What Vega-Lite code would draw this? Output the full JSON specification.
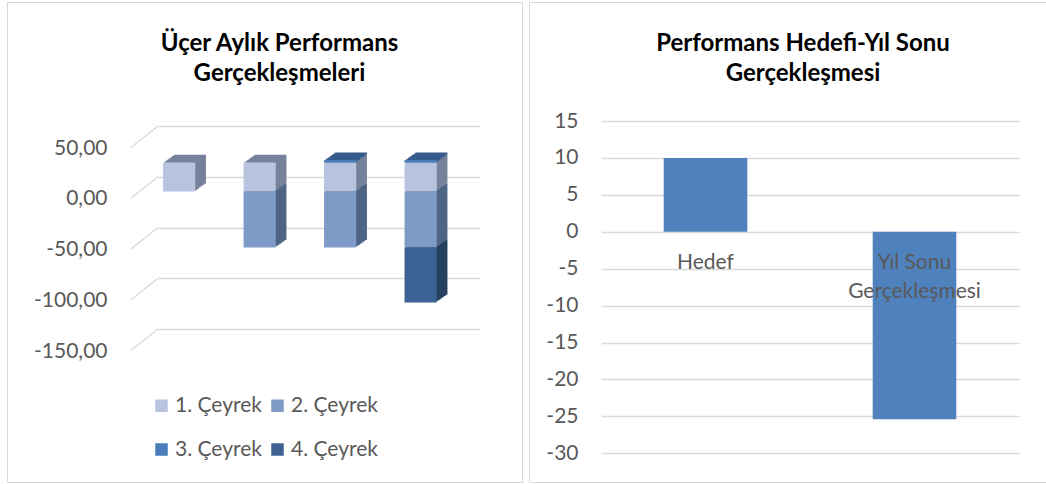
{
  "$schema": "https://vega.github.io/schema/vega-lite/v6.json",
  "padding": {"left": 6, "top": 1, "right": 0, "bottom": 2},
  "background": "white",
  "bounds": "flush",
  "spacing": 7,
  "config": {
    "font": "Lato",
    "locale": {"number": {"decimal": ",", "thousands": ".", "grouping": [3], "currency": ["", " ₺"], "minus": "-"}},
    "view": {"stroke": "#d9d9d9", "strokeWidth": 1},
    "axis": {"labelFont": "Lato", "labelFontSize": 21, "labelColor": "#595959", "gridColor": "#d9d9d9", "gridWidth": 1.3, "domain": false, "ticks": false, "tickSize": 0},
    "title": {"font": "Lato", "fontSize": 24, "fontWeight": "bold", "color": "#000000", "lineHeight": 30, "offset": -84, "dx": 15}
  },
  "hconcat": [
    {
      "width": 515,
      "height": 480,
      "title": {"text": ["Üçer Aylık Performans", "Gerçekleşmeleri"]},
      "data": {"values": [
        {"donem": "1", "ceyrek": "1. Çeyrek", "deger": 28.6},
        {"donem": "2", "ceyrek": "1. Çeyrek", "deger": 28.6},
        {"donem": "2", "ceyrek": "2. Çeyrek", "deger": -55.3},
        {"donem": "3", "ceyrek": "1. Çeyrek", "deger": 28.6},
        {"donem": "3", "ceyrek": "2. Çeyrek", "deger": -55.3},
        {"donem": "3", "ceyrek": "3. Çeyrek", "deger": 2.3},
        {"donem": "4", "ceyrek": "1. Çeyrek", "deger": 28.6},
        {"donem": "4", "ceyrek": "2. Çeyrek", "deger": -55.3},
        {"donem": "4", "ceyrek": "3. Çeyrek", "deger": 2.3},
        {"donem": "4", "ceyrek": "4. Çeyrek", "deger": -54.0}
      ]},
      "layer": [
        {
          "mark": {"type": "bar", "xOffset": -8.4, "yOffset": 7, "y2Offset": 7},
          "encoding": {
            "x": {"field": "donem", "type": "nominal", "scale": {"domain": ["1", "2", "3", "4"], "range": [151, 473], "paddingInner": 0.6, "paddingOuter": 0.3}, "axis": null},
            "y": {"field": "deger", "type": "quantitative", "stack": "zero", "scale": {"domain": [-150, 50], "range": [327, 124], "nice": false, "zero": false},
                  "axis": {"title": null, "values": [-150, -100, -50, 0, 50], "format": ".2f", "offset": -151, "labelPadding": 51, "labelOffset": 22, "grid": true}},
            "order": {"field": "ceyrek", "type": "ordinal", "sort": "ascending"},
            "color": {"field": "ceyrek", "type": "nominal", "legend": null,
                      "scale": {"domain": ["1. Çeyrek", "2. Çeyrek", "3. Çeyrek", "4. Çeyrek"], "range": ["#76829a", "#4e6585", "#365b8c", "#26405f"]}}
          }
        },
        {
          "mark": {"type": "bar", "xOffset": -10.18, "yOffset": 8.28, "y2Offset": 8.28},
          "encoding": {
            "x": {"field": "donem", "type": "nominal"},
            "y": {"field": "deger", "type": "quantitative", "stack": "zero"},
            "order": {"field": "ceyrek", "type": "ordinal", "sort": "ascending"},
            "color": {"field": "ceyrek", "type": "nominal", "legend": null,
                      "scale": {"domain": ["1. Çeyrek", "2. Çeyrek", "3. Çeyrek", "4. Çeyrek"], "range": ["#76829a", "#4e6585", "#365b8c", "#26405f"]}}
          }
        },
        {
          "mark": {"type": "bar", "xOffset": -11.97, "yOffset": 9.57, "y2Offset": 9.57},
          "encoding": {
            "x": {"field": "donem", "type": "nominal"},
            "y": {"field": "deger", "type": "quantitative", "stack": "zero"},
            "order": {"field": "ceyrek", "type": "ordinal", "sort": "ascending"},
            "color": {"field": "ceyrek", "type": "nominal", "legend": null,
                      "scale": {"domain": ["1. Çeyrek", "2. Çeyrek", "3. Çeyrek", "4. Çeyrek"], "range": ["#76829a", "#4e6585", "#365b8c", "#26405f"]}}
          }
        },
        {
          "mark": {"type": "bar", "xOffset": -13.75, "yOffset": 10.85, "y2Offset": 10.85},
          "encoding": {
            "x": {"field": "donem", "type": "nominal"},
            "y": {"field": "deger", "type": "quantitative", "stack": "zero"},
            "order": {"field": "ceyrek", "type": "ordinal", "sort": "ascending"},
            "color": {"field": "ceyrek", "type": "nominal", "legend": null,
                      "scale": {"domain": ["1. Çeyrek", "2. Çeyrek", "3. Çeyrek", "4. Çeyrek"], "range": ["#76829a", "#4e6585", "#365b8c", "#26405f"]}}
          }
        },
        {
          "mark": {"type": "bar", "xOffset": -15.53, "yOffset": 12.13, "y2Offset": 12.13},
          "encoding": {
            "x": {"field": "donem", "type": "nominal"},
            "y": {"field": "deger", "type": "quantitative", "stack": "zero"},
            "order": {"field": "ceyrek", "type": "ordinal", "sort": "ascending"},
            "color": {"field": "ceyrek", "type": "nominal", "legend": null,
                      "scale": {"domain": ["1. Çeyrek", "2. Çeyrek", "3. Çeyrek", "4. Çeyrek"], "range": ["#76829a", "#4e6585", "#365b8c", "#26405f"]}}
          }
        },
        {
          "mark": {"type": "bar", "xOffset": -17.32, "yOffset": 13.42, "y2Offset": 13.42},
          "encoding": {
            "x": {"field": "donem", "type": "nominal"},
            "y": {"field": "deger", "type": "quantitative", "stack": "zero"},
            "order": {"field": "ceyrek", "type": "ordinal", "sort": "ascending"},
            "color": {"field": "ceyrek", "type": "nominal", "legend": null,
                      "scale": {"domain": ["1. Çeyrek", "2. Çeyrek", "3. Çeyrek", "4. Çeyrek"], "range": ["#76829a", "#4e6585", "#365b8c", "#26405f"]}}
          }
        },
        {
          "mark": {"type": "bar", "xOffset": -19.1, "yOffset": 14.7, "y2Offset": 14.7},
          "encoding": {
            "x": {"field": "donem", "type": "nominal"},
            "y": {"field": "deger", "type": "quantitative", "stack": "zero"},
            "order": {"field": "ceyrek", "type": "ordinal", "sort": "ascending"},
            "color": {"field": "ceyrek", "type": "nominal",
                      "scale": {"domain": ["1. Çeyrek", "2. Çeyrek", "3. Çeyrek", "4. Çeyrek"], "range": ["#b7c3df", "#7e9bc8", "#4a7ebb", "#3b6292"]},
                      "legend": {"title": null, "orient": "none", "legendX": 144, "legendY": 393, "columns": 2, "direction": "horizontal",
                                 "symbolType": "square", "symbolSize": 156, "symbolStrokeWidth": 0, "labelFontSize": 21, "labelFont": "Lato",
                                 "labelColor": "#595959", "labelOffset": 3, "columnPadding": 5, "rowPadding": 22, "padding": 0}}
          }
        },
        {
          "data": {"values": [{"v": 50}, {"v": 0}, {"v": -50}, {"v": -100}, {"v": -150}]},
          "mark": {"type": "rule", "color": "#d9d9d9", "strokeWidth": 1.3, "xOffset": -24.15, "x2Offset": -51.5, "y2Offset": 21.7},
          "encoding": {
            "x": {"datum": "1", "bandPosition": 0},
            "x2": {"datum": "1", "bandPosition": 0},
            "y": {"field": "v", "type": "quantitative"},
            "y2": {"field": "v"}
          }
        }
      ],
      "resolve": {"scale": {"color": "independent"}}
    },
    {
      "width": 518,
      "height": 480,
      "title": {"text": ["Performans Hedefi-Yıl Sonu", "Gerçekleşmesi"]},
      "data": {"values": [
        {"kalem": "Hedef", "deger": 10},
        {"kalem": "Yıl Sonu Gerçekleşmesi", "deger": -25.4}
      ]},
      "mark": {"type": "bar", "color": "#4f81bd"},
      "encoding": {
        "x": {"field": "kalem", "type": "nominal", "sort": null,
              "scale": {"range": [72, 490], "paddingInner": 0.6, "paddingOuter": 0.3},
              "axis": {"title": null, "labelAngle": 0, "offset": -250.3, "labelPadding": 37, "labelBaseline": "alphabetic", "labelLineHeight": 29, "zindex": 1, "labelLimit": 300,
                       "labelExpr": "datum.label == 'Yıl Sonu Gerçekleşmesi' ? ['Yıl Sonu', 'Gerçekleşmesi'] : datum.label"}},
        "y": {"field": "deger", "type": "quantitative",
              "scale": {"domain": [-30, 15], "range": [451.3, 119], "nice": false, "zero": false},
              "axis": {"title": null, "values": [-30, -25, -20, -15, -10, -5, 0, 5, 10, 15], "format": "d", "offset": -72, "labelPadding": 23, "grid": true}}
      }
    }
  ]
}
